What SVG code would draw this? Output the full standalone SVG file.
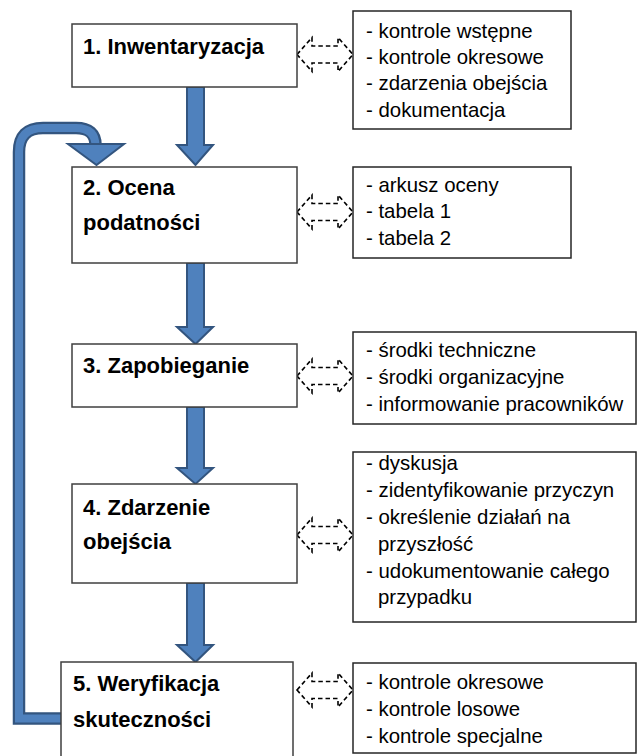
<svg xmlns="http://www.w3.org/2000/svg" width="637" height="756" viewBox="0 0 637 756">
<style>
.box{fill:#fff;stroke:#3f3f3f;stroke-width:1.5}
.rbox{fill:#fff;stroke:#262626;stroke-width:1.5}
.lbl{font-family:"Liberation Sans",Arial,sans-serif;font-weight:bold;font-size:22px;fill:#000}
.itm{font-family:"Liberation Sans",Arial,sans-serif;font-size:20.4px;fill:#000}
.big{fill:#4f81bd;stroke:#33557f;stroke-width:2;stroke-linejoin:miter}
.dbl{fill:#fff;stroke:#000;stroke-width:1.6;stroke-dasharray:4.5 3}
</style>
<rect width="637" height="756" fill="#fff"/>
<g id="connectors">
  <polygon class="big" points="187,87 204,87 204,145 213,145 195.5,165 177,145 187,145"/>
  <polygon class="big" points="187,263 204,263 204,327 213,327 195.5,344 177,327 187,327"/>
  <polygon class="big" points="187,407 204,407 204,468 213,468 195.5,484 177,468 187,468"/>
  <polygon class="big" points="187,583 204,583 204,645 213,645 195.5,662 177,645 187,645"/>
  <g id="loop">
    <path d="M61 718.5 H19 V152 Q19 128 43 128 H76 Q95.5 128 95.5 145" fill="none" stroke="#33557f" stroke-width="12.5"/>
    <path d="M62 718.5 H19 V152 Q19 128 43 128 H76 Q95.5 128 95.5 146" fill="none" stroke="#4f81bd" stroke-width="8"/>
    <polygon class="big" points="68,144 124,144 96.5,165"/>
  </g>
  <polygon class="dbl" points="297,54.5 312,37.5 312,46 338,46 338,37.5 353,54.5 338,71.5 338,63 312,63 312,71.5"/>
  <polygon class="dbl" points="297,212 312,195 312,203.5 338,203.5 338,195 353,212 338,229 338,220.5 312,220.5 312,229"/>
  <polygon class="dbl" points="297,376 312,359 312,367.5 338,367.5 338,359 353,376 338,393 338,384.5 312,384.5 312,393"/>
  <polygon class="dbl" points="297,535 312,518 312,526.5 338,526.5 338,518 353,535 338,552 338,543.5 312,543.5 312,552"/>
  <polygon class="dbl" points="297,690 312,673 312,681.5 338,681.5 338,673 353,690 338,707 338,698.5 312,698.5 312,707"/>
</g>
<g id="n1">
  <rect class="box" x="72" y="24" width="225" height="63"/>
  <text class="lbl" x="83" y="54">1. Inwentaryzacja</text>
</g>
<g id="n2">
  <rect class="box" x="72" y="167" width="225" height="96"/>
  <text class="lbl" x="83" y="195">2. Ocena</text>
  <text class="lbl" x="83" y="230">podatności</text>
</g>
<g id="n3">
  <rect class="box" x="72" y="344" width="225" height="63"/>
  <text class="lbl" x="83" y="373">3. Zapobieganie</text>
</g>
<g id="n4">
  <rect class="box" x="72" y="484" width="225" height="99"/>
  <text class="lbl" x="83" y="515">4. Zdarzenie</text>
  <text class="lbl" x="83" y="549">obejścia</text>
</g>
<g id="n5">
  <rect class="box" x="61" y="662" width="232" height="100"/>
  <text class="lbl" x="73" y="691">5. Weryfikacja</text>
  <text class="lbl" x="73" y="727">skuteczności</text>
</g>
<g id="r1">
  <rect class="rbox" x="353" y="11" width="218" height="118"/>
  <text class="itm" x="366" y="38">- kontrole wstępne</text>
  <text class="itm" x="366" y="64">- kontrole okresowe</text>
  <text class="itm" x="366" y="90">- zdarzenia obejścia</text>
  <text class="itm" x="366" y="117">- dokumentacja</text>
</g>
<g id="r2">
  <rect class="rbox" x="353" y="167" width="218" height="91"/>
  <text class="itm" x="366" y="192">- arkusz oceny</text>
  <text class="itm" x="366" y="218">- tabela 1</text>
  <text class="itm" x="366" y="245">- tabela 2</text>
</g>
<g id="r3">
  <rect class="rbox" x="353" y="332" width="283" height="92"/>
  <text class="itm" x="366" y="357">- środki techniczne</text>
  <text class="itm" x="366" y="384">- środki organizacyjne</text>
  <text class="itm" x="366" y="411">- informowanie pracowników</text>
</g>
<g id="r4">
  <rect class="rbox" x="353" y="452" width="283" height="170"/>
  <text class="itm" x="366" y="470">- dyskusja</text>
  <text class="itm" x="366" y="497">- zidentyfikowanie przyczyn</text>
  <text class="itm" x="366" y="524">- określenie działań na</text>
  <text class="itm" x="378" y="551">przyszłość</text>
  <text class="itm" x="366" y="578">- udokumentowanie całego</text>
  <text class="itm" x="378" y="604">przypadku</text>
</g>
<g id="r5">
  <rect class="rbox" x="353" y="663" width="283" height="90"/>
  <text class="itm" x="366" y="689">- kontrole okresowe</text>
  <text class="itm" x="366" y="716">- kontrole losowe</text>
  <text class="itm" x="366" y="743">- kontrole specjalne</text>
</g>
</svg>
